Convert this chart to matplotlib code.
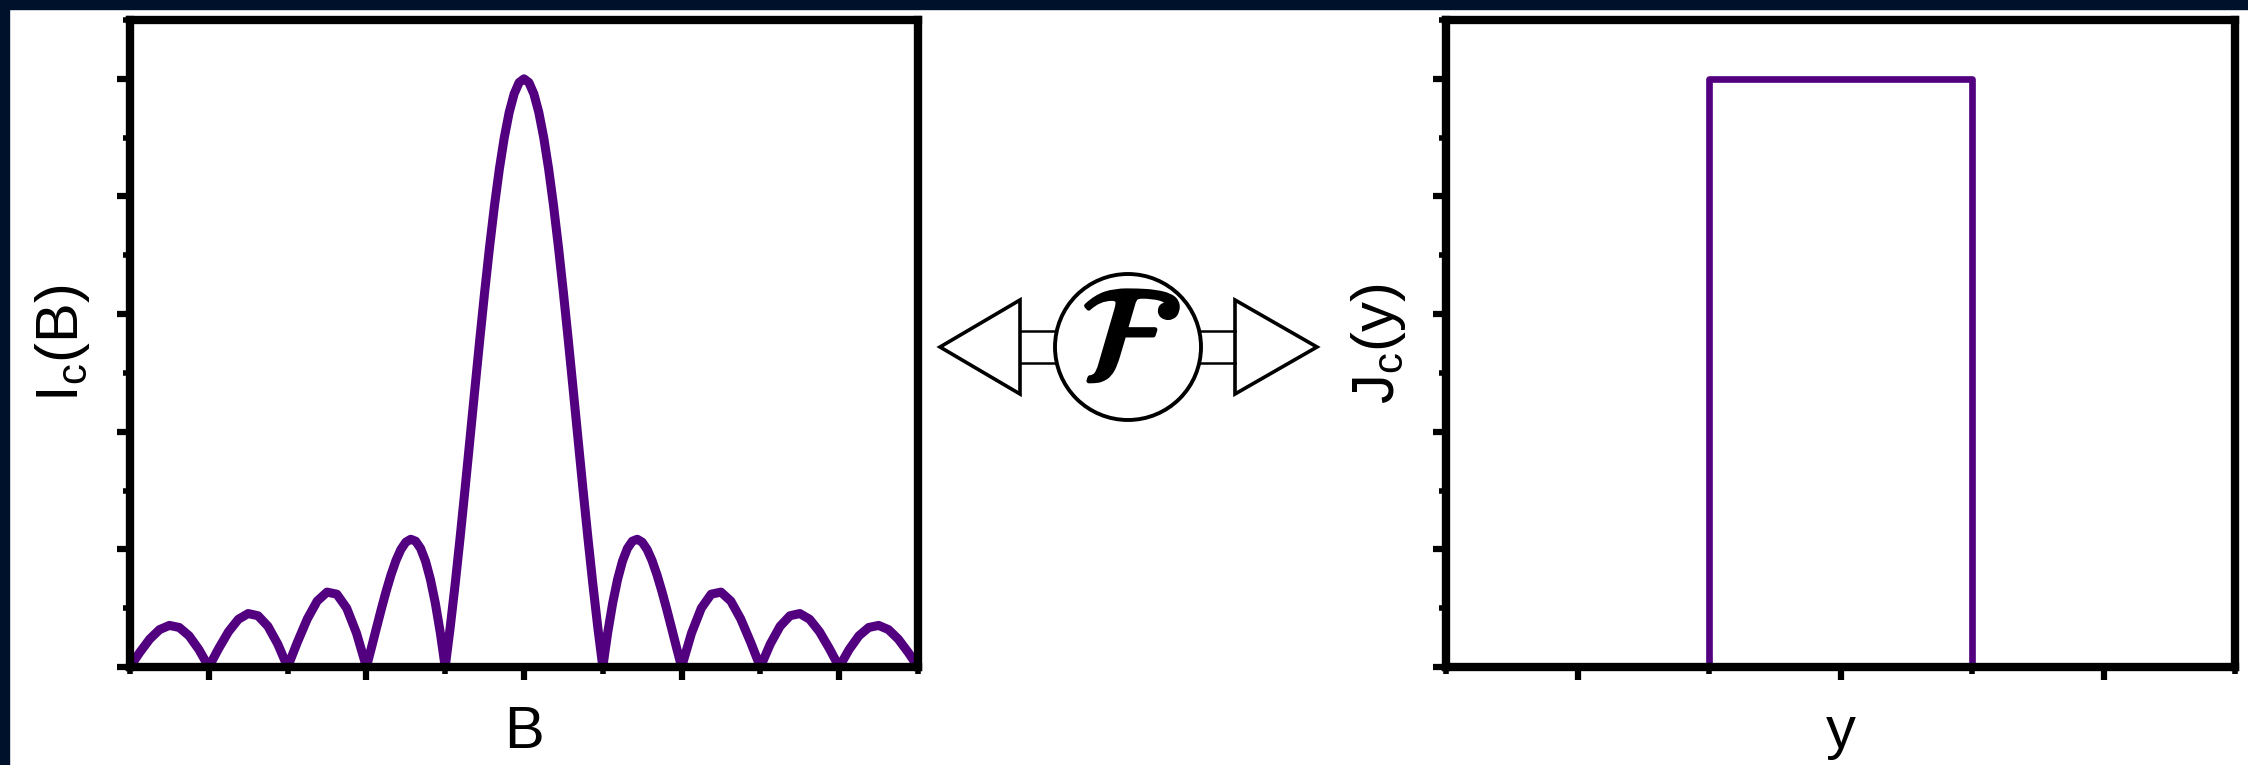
import numpy as np
import matplotlib.pyplot as plt
from matplotlib.patches import Circle, Polygon, Rectangle
from matplotlib.ticker import MultipleLocator
import matplotlib.patheffects as pe

plt.rcParams['font.family'] = ['Liberation Sans', 'DejaVu Sans']
plt.rcParams['mathtext.fontset'] = 'custom'
plt.rcParams['mathtext.rm'] = 'Liberation Sans'
plt.rcParams['mathtext.it'] = 'Liberation Sans:italic'

# critical current vs field, positive half (B in flux quanta), mirrored below
field_half = [0.0, 0.0625, 0.125, 0.1875, 0.25, 0.3125, 0.375, 0.4375,
              0.5, 0.5625, 0.625, 0.6875, 0.75, 0.8125, 0.875, 0.9375,
              1.0, 1.0625, 1.125, 1.1875, 1.25, 1.3125, 1.375, 1.4375,
              1.5, 1.5625, 1.625, 1.6875, 1.75, 1.8125, 1.875, 1.9375,
              2.0, 2.125, 2.25, 2.375, 2.5, 2.625, 2.75, 2.875,
              3.0, 3.125, 3.25, 3.375, 3.5, 3.625, 3.75, 3.875,
              4.0, 4.125, 4.25, 4.375, 4.5, 4.625, 4.75, 4.875, 5.0]
ic_half = [1.0, 0.9936, 0.9745, 0.9432, 0.9003, 0.8469, 0.7842, 0.7136,
           0.6366, 0.5550, 0.4705, 0.3850, 0.3001, 0.2177, 0.1392, 0.0662,
           0.0, 0.0585, 0.1083, 0.1489, 0.1801, 0.2017, 0.2139, 0.2172,
           0.2122, 0.1998, 0.1810, 0.1568, 0.1286, 0.0976, 0.0650, 0.0321,
           0.0, 0.0573, 0.1000, 0.1238, 0.1273, 0.1120, 0.0818, 0.0424,
           0.0, 0.0390, 0.0693, 0.0871, 0.0909, 0.0811, 0.0600, 0.0314,
           0.0, 0.0295, 0.0530, 0.0672, 0.0707, 0.0636, 0.0474, 0.0250, 0.0]

# uniform current density across the junction width
y_edges = [-3, -1, 1, 3]
jc_levels = [0, 1, 0, 0]

purple = '#52007f'
navy = '#00112b'
W, H = 2248, 765

field = np.concatenate([-np.array(field_half[:0:-1]), field_half])
ic = np.concatenate([ic_half[:0:-1], ic_half])

fig = plt.figure(figsize=(W / 100, H / 100), dpi=100)
fig.patch.set_facecolor('white')

ax1 = fig.add_axes([130 / W, (H - 667) / H, 788 / W, 647 / H])
ax2 = fig.add_axes([1446 / W, (H - 667) / H, 789 / W, 647 / H])


def style(ax, xlim):
    ax.set_xlim(xlim)
    ax.set_ylim(0, 1.1)
    for s in ax.spines.values():
        s.set_linewidth(6)
    ax.xaxis.set_major_locator(MultipleLocator(2))
    ax.xaxis.set_minor_locator(MultipleLocator(1))
    ax.yaxis.set_major_locator(MultipleLocator(0.2))
    ax.yaxis.set_minor_locator(MultipleLocator(0.1))
    ax.tick_params(which='both', direction='out', top=False, right=False,
                   labelbottom=False, labelleft=False)
    ax.tick_params(which='major', length=9.5, width=4.5)
    ax.tick_params(which='minor', length=5, width=4)


ax1.plot(field, ic, color=purple, lw=6.5, solid_joinstyle='round')
style(ax1, (-5, 5))
ax1.set_xlabel('B', fontsize=43, labelpad=18)
ax1.set_ylabel(r'I$_{\rm c}$(B)', fontsize=43, labelpad=18)

ax2.step(y_edges, jc_levels, where='post', color=purple, lw=4.8)
style(ax2, (-3, 3))
ax2.set_xlabel('y', fontsize=43, labelpad=18)
ax2.set_ylabel(r'J$_{\rm c}$(y)', fontsize=43, labelpad=18)

# Fourier-transform symbol between the panels
deco = fig.add_axes([0, 0, 1, 1])
deco.set_xlim(0, W)
deco.set_ylim(H, 0)
deco.axis('off')
cy = 347
deco.add_patch(Polygon([(940, cy), (1020, cy - 47), (1020, cy + 47)],
                       closed=True, fc='white', ec='black', lw=2.6))
deco.add_patch(Polygon([(1317, cy), (1235, cy - 47), (1235, cy + 47)],
                       closed=True, fc='white', ec='black', lw=2.6))
for yy in (cy - 16, cy + 16):
    deco.plot([1020, 1056], [yy, yy], color='black', lw=1.8)
    deco.plot([1200, 1235], [yy, yy], color='black', lw=1.8)
deco.add_patch(Circle((1128, cy), 73, fc='white', ec='black', lw=2.8))
deco.text(1130, cy, r'$\mathcal{F}$', math_fontfamily='stix', fontsize=98,
          ha='center', va='center',
          path_effects=[pe.withStroke(linewidth=3.5, foreground='black')])

# dark frame along the top and left edges
fig.patches.append(Rectangle((0, 0), 9 / W, 1, transform=fig.transFigure,
                             color=navy, zorder=10))
fig.patches.append(Rectangle((0, 1 - 9 / H), 1, 9 / H, transform=fig.transFigure,
                             color=navy, zorder=10))

fig.savefig('out.png', dpi=100, facecolor='white')
